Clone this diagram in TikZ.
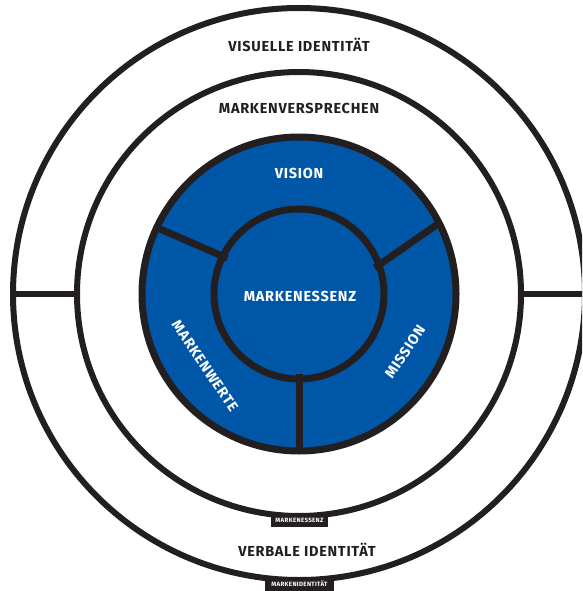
\documentclass[tikz,border=0pt]{standalone}
\usepackage{fontspec}
\setmainfont{Fira Sans}[LetterSpace=5]
\usetikzlibrary{calc}
\definecolor{dk}{HTML}{231F20}
\definecolor{bl}{HTML}{0057A8}
\begin{document}
\begin{tikzpicture}[x=1pt,y=-1pt,
  ring/.style={draw=dk,line width=6pt},
  bring/.style={draw=dk,line width=7pt},
  lbl/.style={font=\bfseries\fontsize{14.5}{15}\selectfont,inner sep=0pt},
  wlbl/.style={lbl,text=white},
  tag/.style={fill=dk,text=white,font=\bfseries\fontsize{6.2}{7}\selectfont,inner sep=0pt,minimum height=13pt}]
\useasboundingbox (0,0) rectangle (582,591);
\clip (0,0) rectangle (582,591);
\fill[white] (0,0) rectangle (582,591);
\coordinate (c) at (299,294);
% blue ring
\fill[bl] (c) circle (157);
% dividers
\coordinate (d1a) at ($(c)+(-19:80)$);
\coordinate (d1b) at ($(c)+(-27:160)$);
\coordinate (d2a) at ($(c)+(-153.5:80)$);
\coordinate (d2b) at ($(c)+(-155:160)$);
\coordinate (d3a) at ($(c)+(90:80)$);
\coordinate (d3b) at ($(c)+(90:160)$);
\draw[bring] (d1a) -- (d1b);
\draw[bring] (d2a) -- (d2b);
\draw[bring] (d3a) -- (d3b);
% circles
\draw[ring] (c) circle (286);
\draw[ring] (c) circle (222);
\draw[bring] (c) circle (157);
\draw[bring] (c) circle (85);
% horizontal connectors between outer rings
\coordinate (hLo) at ($(c)+(180:286)$);
\coordinate (hLi) at ($(c)+(180:222)$);
\coordinate (hRo) at ($(c)+(0:286)$);
\coordinate (hRi) at ($(c)+(0:222)$);
\draw[ring] (hLo) -- (hLi);
\draw[ring] (hRi) -- (hRo);
% texts
\node[lbl,text=dk] (vis) at (299,45) {VISUELLE IDENTITÄT};
\node[lbl,text=dk] (mvs) at (299,108) {MARKENVERSPRECHEN};
\node[lbl,text=dk] (verb) at (307,550) {VERBALE IDENTITÄT};
\node[wlbl] (vision) at (299,173) {VISION};
\node[wlbl] (essenz) at (300,296) {MARKENESSENZ};
\node[wlbl,rotate=-56] (werte) at (205,366) {MARKENWERTE};
\node[wlbl,rotate=56] (mission) at (405,352) {MISSION};
% tags
\node[tag,minimum width=57pt] (tag1) at (299.5,520) {MARKENESSENZ};
\node[tag,minimum width=69pt] (tag2) at (299.5,584) {MARKENIDENTITÄT};
\end{tikzpicture}
\end{document}
